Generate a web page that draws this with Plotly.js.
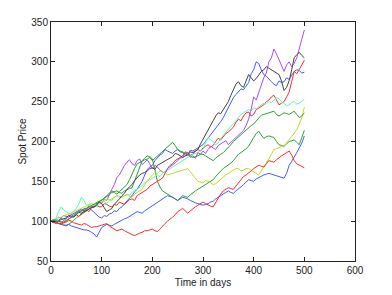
<!DOCTYPE html>
<html>
<head>
<meta charset="utf-8">
<script src="https://cdn.plot.ly/plotly-3.0.1.min.js"></script>
<style>html,body{margin:0;padding:0;background:#fff;}#chart{width:392px;height:295px;}</style>
</head>
<body>
<div id="chart"></div>
<script>
// Days sampled every 5 days, 0..500
const days = [0,5,10,15,20,25,30,35,40,45,50,55,60,65,70,75,80,85,90,95,
  100,105,110,115,120,125,130,135,140,145,150,155,160,165,170,175,180,185,190,195,
  200,205,210,215,220,225,230,235,240,245,250,255,260,265,270,275,280,285,290,295,
  300,305,310,315,320,325,330,335,340,345,350,355,360,365,370,375,380,385,390,395,
  400,405,410,415,420,425,430,435,440,445,450,455,460,465,470,475,480,485,490,495,500];

const purplePath = [100,98,102,105,104,101,103,107,108,106, 110,113,112,116,115,119,118,117,121,124,
  122,128,126,134,140,146,155,158,165,170, 174,177,172,170,176,178,171,174,177,172,
  166,170,168,164,162,160,166,168,170,173, 176,179,180,186,184,180,182,179,186,184,
  188,185,190,194,192,190,195,197,198,201, 196,199,203,206,208,212,214,220,228,240,
  256,252,262,270,280,286,300,305,316,310, 303,296,288,296,300,294,298,305,316,326, 340];
const blackPath = [100,101,99,100,102,103,104,107,106,105, 108,111,110,112,114,116,117,118,120,124,
  122,117,112,114,116,121,124,128,132,135, 140,143,146,151,155,158,160,161,163,166,
  167,165,170,172,174,176,178,180,181,185, 184,182,180,182,183,187,186,188,190,197,
  203,209,216,222,226,232,236,235,240,246, 250,258,266,272,275,270,268,276,284,280,
  276,279,283,288,290,294,292,290,288,287, 284,276,264,268,276,290,305,309,312,308, 305];
const blue1Path = [100,99,102,101,104,107,106,105,108,110, 112,114,115,113,116,117,114,110,108,105,
  104,107,106,109,110,113,112,116,118,122, 125,129,132,137,140,146,150,158,165,168,
  170,176,180,183,185,190,188,186,185,188, 190,187,186,183,184,189,188,190,192,195,
  196,200,204,209,212,216,220,225,230,236, 242,250,255,259,262,266,265,270,274,285,
  290,300,298,290,284,282,278,275,272,270, 276,274,275,280,278,284,288,290,289,286, 287];
const red1Path = [100,98,97,100,99,98,101,103,104,107, 108,106,110,113,114,112,117,119,120,118,
  118,122,121,119,118,121,120,124,122,121, 124,127,128,126,132,134,136,139,140,144,
  146,149,150,152,154,160,166,170,172,176, 178,181,182,187,186,183,184,188,190,188,
  192,194,196,193,195,200,204,202,206,210, 212,215,218,224,228,226,232,236,237,232,
  234,240,242,245,246,250,252,256,258,252, 246,248,250,256,262,275,288,285,290,296, 302];
const cyanPath = [100,102,104,112,118,114,112,110,110,113, 116,122,130,126,120,121,122,119,118,121,
  124,125,122,126,128,131,132,130,130,132, 134,133,136,139,140,142,145,148,150,153,
  155,157,158,156,160,163,164,166,168,170, 172,174,176,179,180,183,184,185,186,189,
  190,198,205,202,200,196,198,204,208,212, 215,219,222,226,230,234,236,238,240,239,
  242,241,244,246,248,247,250,249,252,255, 254,250,248,245,246,249,250,247,248,251, 253];
const yellowPath = [100,101,102,104,105,107,108,109,110,112, 114,115,116,118,118,120,122,121,120,123,
  124,126,128,127,126,130,132,131,130,132, 133,131,130,134,136,138,140,146,150,155,
  158,161,160,163,162,160,158,159,160,161, 162,163,164,165,166,162,158,154,150,149,
  148,151,150,148,146,147,150,153,156,158, 160,162,164,166,166,163,164,166,166,164,
  162,159,158,163,168,172,178,184,190,191, 192,194,195,198,203,206,210,215,222,230, 243];
const green1Path = [100,102,101,99,99,100,100,103,106,108, 110,112,114,115,116,118,120,122,124,125,
  126,129,132,135,138,136,134,137,140,143, 146,152,160,166,172,174,175,177,178,180,
  176,179,182,185,188,191,194,196,199,195, 190,188,187,185,184,182,180,181,182,184,
  184,182,180,178,176,179,182,184,186,189, 192,196,200,203,206,209,212,215,218,220,
  222,226,230,233,234,235,236,237,238,234, 232,234,236,235,234,236,238,234,230,232, 236];
const green2Path = [100,99,98,97,96,95,94,96,98,101, 104,106,108,110,112,115,118,120,122,124,
  126,128,130,133,136,137,138,136,135,138, 140,141,142,150,160,168,176,179,182,181,
  178,165,150,143,138,136,134,132,130,128, 126,129,132,131,130,133,136,138,140,142,
  145,146,148,150,152,156,160,163,166,168, 170,173,176,180,184,186,188,191,194,200,
  205,210,213,208,204,206,207,206,205,200, 196,195,194,197,200,201,202,199,196,205, 214];
const blue2Path = [100,98,99,97,97,95,95,96,94,93, 92,91,90,89,89,88,86,84,80,86,
  92,94,96,95,94,96,98,100,102,103, 104,106,108,110,112,111,110,113,115,118,
  120,122,124,126,128,130,132,131,130,128, 126,128,130,129,128,126,124,123,122,121,
  120,121,122,124,125,128,130,132,134,136, 138,136,135,138,140,143,146,149,152,151,
  150,153,155,156,158,159,160,159,158,157, 156,155,154,160,170,175,180,186,192,198, 207];
const red2Path = [100,99,98,97,96,98,99,101,100,98, 97,96,95,97,96,94,92,93,93,94,
  95,96,97,94,92,90,88,89,90,88, 86,85,83,82,84,85,86,88,88,89,
  90,88,87,90,94,97,100,102,105,108, 112,114,116,113,110,113,116,118,120,122,
  124,122,120,119,118,124,130,134,138,140, 142,141,140,144,148,152,156,158,160,163,
  166,168,170,169,168,172,176,175,174,177, 180,182,184,186,188,183,176,172,170,168, 167];

const seriesList = [blue1Path, green2Path, red1Path, cyanPath, purplePath, yellowPath, blackPath, blue2Path, green1Path, red2Path];
const seriesColors = ['#3f5cff','#2aa32a','#ff2a2a','#4dffb0','#a64dff','#c8d81e','#444444','#3f5cff','#2aa32a','#ff2a2a'];

const xTicks = [0,100,200,300,400,500,600];
const yTicks = [50,100,150,200,250,300,350];

const traces = seriesList.map((vals, i) => ({
  x: days, y: vals, type: 'scatter', mode: 'lines',
  line: {color: seriesColors[i], width: 1},
  showlegend: false, hoverinfo: 'skip'
}));

const axisFont = {family: 'Liberation Sans, Arial, Helvetica, sans-serif', size: 10, color: '#222'};
const layout = {
  width: 392, height: 295,
  margin: {l: 51, r: 37, t: 22, b: 34, pad: 0},
  paper_bgcolor: '#fff', plot_bgcolor: '#fff',
  font: axisFont,
  xaxis: {
    range: [0, 600], tickvals: xTicks, ticktext: xTicks.map(String),
    ticks: 'inside', ticklen: 4, tickcolor: '#222', mirror: 'ticks',
    showline: true, linecolor: '#222', linewidth: 1,
    showgrid: false, zeroline: false, tickfont: axisFont,
    title: {text: 'Time in days', font: axisFont, standoff: 3}
  },
  yaxis: {
    range: [50, 350], tickvals: yTicks, ticktext: yTicks.map(String),
    ticks: 'inside', ticklen: 4, tickcolor: '#222', mirror: 'ticks',
    showline: true, linecolor: '#222', linewidth: 1,
    showgrid: false, zeroline: false, tickfont: axisFont,
    title: {text: 'Spot Price', font: axisFont, standoff: 2}
  }
};

Plotly.newPlot('chart', traces, layout, {displayModeBar: false, staticPlot: true});
</script>
</body>
</html>
